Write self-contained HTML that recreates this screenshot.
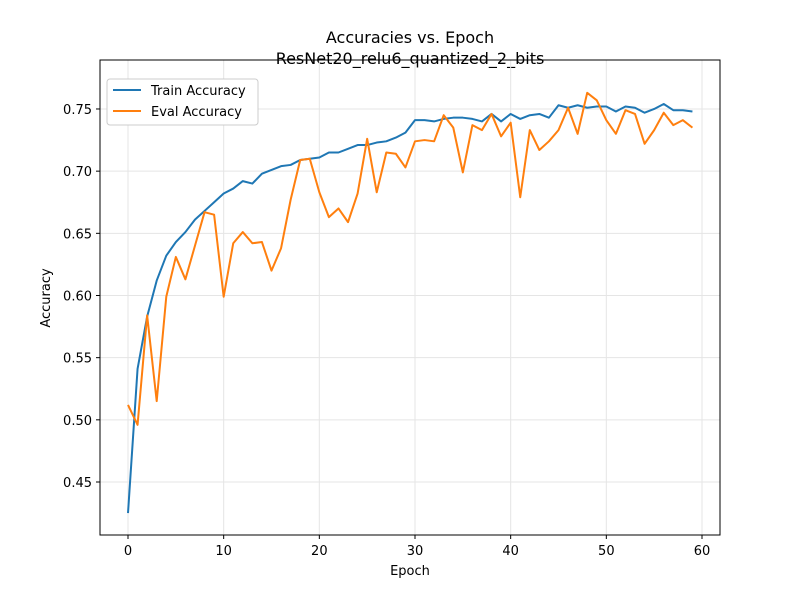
<!DOCTYPE html>
<html><head><meta charset="utf-8"><style>
body{margin:0;background:#fff;}
svg{display:block;font-family:"DejaVu Sans","Liberation Sans",sans-serif;}
</style></head><body>
<svg id="chart" width="800" height="600">
<rect width="800" height="600" fill="#fff"/>
<text x="410" y="43" text-anchor="middle" font-size="16">Accuracies vs. Epoch</text>
<text x="410" y="64" text-anchor="middle" font-size="16">ResNet20_relu6_quantized_2_bits</text>
<g id="grid"></g>
<g id="ticks"></g>
<g id="series"></g>
<rect x="100" y="60" width="620" height="475" fill="none" stroke="#000" stroke-width="1"/>
<text x="410" y="575" text-anchor="middle" font-size="13">Epoch</text>
<text x="0" y="0" transform="translate(50,298) rotate(-90)" text-anchor="middle" font-size="13">Accuracy</text>
<g>
<rect x="107" y="79" width="151" height="46" rx="3" fill="#fff" stroke="#ccc"/>
<line x1="113" y1="90" x2="141" y2="90" stroke="#1f77b4" stroke-width="2"/>
<text x="151" y="95" font-size="13">Train Accuracy</text>
<line x1="113" y1="111" x2="141" y2="111" stroke="#ff7f0e" stroke-width="2"/>
<text x="151" y="116" font-size="13">Eval Accuracy</text>
</g>
</svg>
<script>
const epochs = Array.from({length:60},(_,i)=>i);
const trainAcc = [0.425,0.541,0.583,0.612,0.632,0.643,0.651,0.661,0.668,0.675,0.682,0.686,0.692,0.690,0.698,0.701,0.704,0.705,0.709,0.710,0.711,0.715,0.715,0.718,0.721,0.721,0.723,0.724,0.727,0.731,0.741,0.741,0.740,0.742,0.743,0.743,0.742,0.740,0.746,0.740,0.746,0.742,0.745,0.746,0.743,0.753,0.751,0.753,0.751,0.752,0.752,0.748,0.752,0.751,0.747,0.750,0.754,0.749,0.749,0.748];
const evalAcc = [0.512,0.496,0.584,0.515,0.599,0.631,0.613,0.640,0.667,0.665,0.599,0.642,0.651,0.642,0.643,0.620,0.638,0.677,0.709,0.710,0.683,0.663,0.670,0.659,0.682,0.726,0.683,0.715,0.714,0.703,0.724,0.725,0.724,0.745,0.735,0.699,0.737,0.733,0.746,0.728,0.739,0.679,0.733,0.717,0.724,0.733,0.751,0.730,0.763,0.757,0.741,0.730,0.749,0.746,0.722,0.733,0.747,0.737,0.741,0.735];
const xTicks = [0,10,20,30,40,50,60];
const yTicks = [0.45,0.50,0.55,0.60,0.65,0.70,0.75];
const NS="http://www.w3.org/2000/svg";
const xs = v => 128 + v*(574/60);
const ys = v => 482 - (v-0.45)*(62.17/0.05);
const grid=document.getElementById('grid'), ticks=document.getElementById('ticks'), ser=document.getElementById('series');
function mk(tag,attrs,parent){const e=document.createElementNS(NS,tag);for(const k in attrs)e.setAttribute(k,attrs[k]);parent.appendChild(e);return e;}
xTicks.forEach(t=>{
  const x=xs(t);
  const g=mk('line',{x1:x,x2:x,y1:60,y2:535,stroke:'#e5e5e5','stroke-width':1},grid);
  
  
  mk('line',{x1:x,x2:x,y1:535,y2:539,stroke:'#000'},ticks);
  const tx=mk('text',{x:x,y:555,'text-anchor':'middle','font-size':13},ticks);
  tx.textContent=t;
  
  
});
yTicks.forEach(t=>{
  const y=ys(t);
  const g=mk('line',{x1:100,x2:720,y1:y,y2:y,stroke:'#e5e5e5','stroke-width':1},grid);
  
  
  mk('line',{x1:96,x2:100,y1:y,y2:y,stroke:'#000'},ticks);
  const tx=mk('text',{x:92,y:y+5,'text-anchor':'end','font-size':13},ticks);
  tx.textContent=t.toFixed(2);
  
  
});
function line(data,color,name){
  const p=mk('polyline',{points:data.map((v,i)=>xs(epochs[i])+','+ys(v)).join(' '),fill:'none',stroke:color,'stroke-width':2,'stroke-linejoin':'round'},ser);
  
  
}
line(trainAcc,'#1f77b4','train-accuracy-line');
line(evalAcc,'#ff7f0e','eval-accuracy-line');
</script>
</body></html>
